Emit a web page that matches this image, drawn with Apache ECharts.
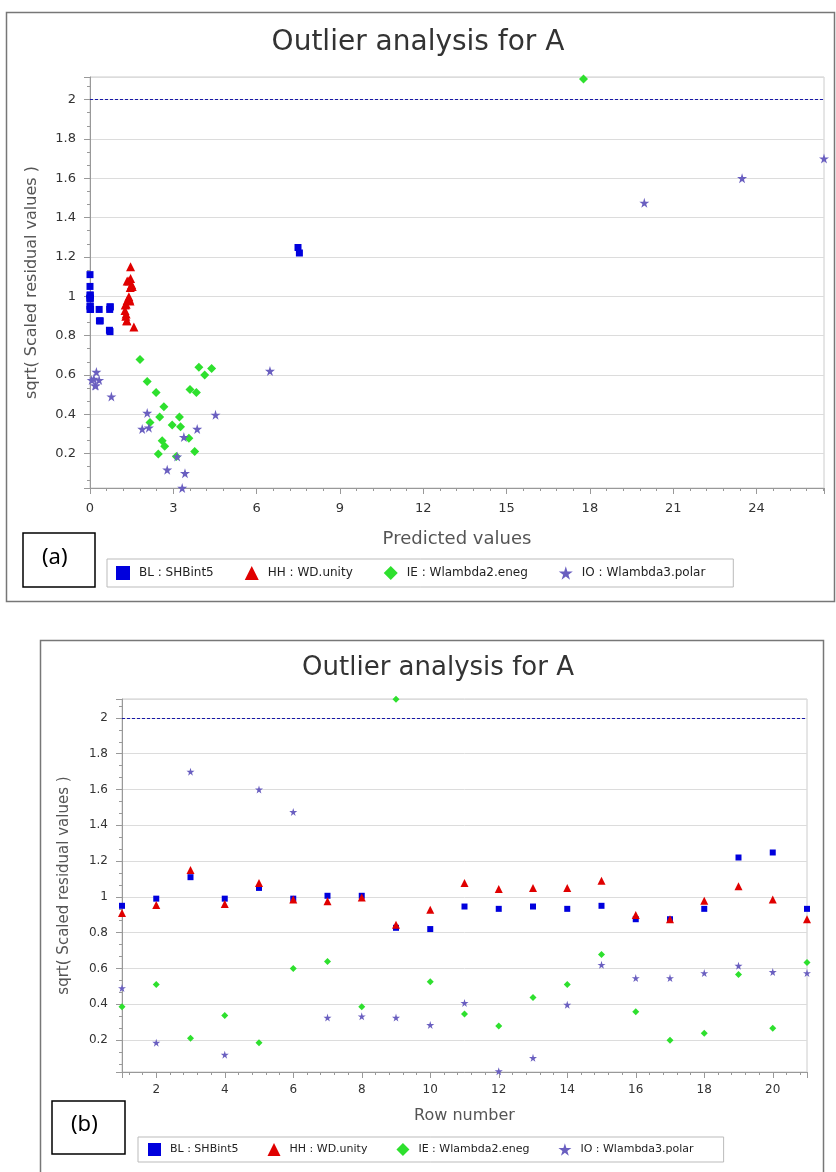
<!DOCTYPE html>
<html>
<head>
<meta charset="utf-8">
<title>Outlier analysis for A</title>
<script src="https://cdn.jsdelivr.net/npm/echarts@6/dist/echarts.min.js"></script>
<style>
html, body { margin: 0; padding: 0; background: #fff; }
#main { width: 836px; height: 1172px; }
</style>
</head>
<body>
<div id="main"></div>
<script>
// series names (legend)
var names = ['BL : SHBint5', 'HH : WD.unity', 'IE : Wlambda2.eneg', 'IO : Wlambda3.polar'];
var rows = [1, 2, 3, 4, 5, 6, 7, 8, 9, 10, 11, 12, 13, 14, 15, 16, 17, 18, 19, 20, 21];

// sqrt(scaled residual) per row
var blRes = [0.95, 0.99, 1.11, 0.99, 1.05, 0.99, 1.006, 1.006, 0.827, 0.82, 0.946, 0.933, 0.946, 0.933, 0.95, 0.875, 0.875, 0.933, 1.22, 1.248, 0.933];
var hhRes = [0.91, 0.955, 1.15, 0.96, 1.077, 0.985, 0.976, 0.997, 0.844, 0.928, 1.077, 1.044, 1.05, 1.05, 1.09, 0.898, 0.875, 0.978, 1.06, 0.985, 0.875];
var ieRes = [0.386, 0.51, 0.21, 0.337, 0.185, 0.60, 0.639, 0.386, 2.105, 0.526, 0.345, 0.278, 0.438, 0.51, 0.678, 0.358, 0.198, 0.237, 0.566, 0.265, 0.633];
var ioRes = [0.49, 0.185, 1.70, 0.118, 1.60, 1.475, 0.325, 0.332, 0.325, 0.284, 0.407, 0.025, 0.1, 0.397, 0.62, 0.546, 0.546, 0.574, 0.615, 0.58, 0.574];

// predicted values per row
var blPred = [0.01, 0.0, 0.0, 0.01, 0.0, 0.0, 0.0, 0.01, 0.70, 0.72, 0.72, 0.33, 0.73, 0.71, 0.0, 0.34, 0.37, 0.02, 7.54, 7.49, 0.0];
var hhPred = [1.30, 1.27, 1.46, 1.30, 1.40, 1.42, 1.44, 1.40, 1.58, 1.26, 1.34, 1.45, 1.52, 1.48, 1.46, 1.29, 1.32, 1.34, 1.50, 1.38, 1.33];
var iePred = [2.51, 2.38, 3.77, 3.26, 3.11, 4.13, 3.92, 3.22, 17.77, 3.60, 2.96, 3.56, 2.66, 3.83, 1.80, 2.16, 2.46, 2.69, 2.06, 2.60, 4.38];
var ioPred = [0.77, 3.14, 26.43, 2.78, 23.48, 19.96, 1.88, 2.12, 3.86, 3.38, 2.06, 3.32, 3.42, 4.52, 6.48, 0.21, 0.18, 0.33, 0.23, 0.14, 0.06];

var limit = 2;

var starPath = 'path://M50,0 L61,35 L98,35 L68,57 L79,91 L50,70 L21,91 L32,57 L2,35 L39,35 Z';
var colors = ['#0000dd', '#e00000', '#2ee02e', '#6a5fc0'];
var symbols = ['rect', 'triangle', 'diamond', starPath];
var sizesA = [7, 9, 9, 10];
var sizesB = [6, 8, 7, 8];

function zip(xs, ys) {
    var out = [];
    for (var i = 0; i < xs.length; i++) out.push([xs[i], ys[i]]);
    return out;
}

function scatter(i, gi, data, sizes) {
    var s = {
        name: names[i],
        type: 'scatter',
        xAxisIndex: gi,
        yAxisIndex: gi,
        symbol: symbols[i],
        symbolSize: sizes[i],
        itemStyle: { color: colors[i], opacity: 1 },
        data: data
    };
    if (i === 0) {
        // 阈值线 y = 2
        s.markLine = {
            silent: true,
            symbol: ['none', 'none'],
            label: { show: false },
            lineStyle: { type: [3, 2], color: '#1818a8', width: 1.2 },
            data: [{ yAxis: limit }]
        };
    }
    return s;
}

function yAx(gi, min, max, fs, gap, nameFs) {
    return {
        type: 'value', gridIndex: gi, min: min, max: max, splitNumber: 10,
        name: 'sqrt( Scaled residual values )', nameLocation: 'middle', nameGap: gap,
        nameTextStyle: { fontFamily: 'DejaVu Sans', fontSize: nameFs, color: '#555' },
        axisLine: { show: true, lineStyle: { color: '#999' } },
        axisTick: { show: true, length: 6, lineStyle: { color: '#999' } },
        minorTick: { show: true, splitNumber: 3, length: 3, lineStyle: { color: '#999' } },
        axisLabel: { fontFamily: 'DejaVu Sans', fontSize: fs, color: '#333', margin: 14,
            showMinLabel: false, showMaxLabel: false },
        splitLine: { show: true, lineStyle: { color: '#dcdcdc' } }
    };
}

function legendBox(left, top, pad, gap, icon, fs) {
    return {
        data: names, left: left, top: top, padding: pad, itemGap: gap,
        itemWidth: icon, itemHeight: icon, borderColor: '#bbb', borderWidth: 1,
        formatter: function (n) { return '{t|' + n + '}'; },
        textStyle: {
            rich: { t: { fontFamily: 'DejaVu Sans', fontSize: fs, color: '#222', padding: [0, 0, 0, 4] } }
        }
    };
}

var chart = echarts.init(document.getElementById('main'));

chart.setOption({
    backgroundColor: '#fff',
    animation: false,
    title: [{
        text: 'Outlier analysis for A', left: 'center', top: 24,
        textStyle: { fontFamily: 'DejaVu Sans', fontSize: 28, fontWeight: 'normal', color: '#333' }
    }, {
        text: 'Outlier analysis for A', left: 433, textAlign: 'center', top: 650,
        textStyle: { fontFamily: 'DejaVu Sans', fontSize: 26, fontWeight: 'normal', color: '#333' }
    }],
    legend: [
        legendBox(107, 559, [7, 28, 7, 9], 31, 14, 12),
        legendBox(138, 1137, [6, 30, 6, 10], 29, 13, 11)
    ],
    grid: [
        { left: 90, top: 77, width: 734, height: 411, show: true, borderColor: '#ccc', outerBoundsMode: 'none', containLabel: false },
        { left: 122, top: 699, width: 685, height: 373, show: true, borderColor: '#ccc', outerBoundsMode: 'none', containLabel: false }
    ],
    xAxis: [{
        type: 'value', gridIndex: 0, min: 0, max: 26.43, interval: 3,
        name: 'Predicted values', nameLocation: 'middle', nameGap: 42,
        nameTextStyle: { fontFamily: 'DejaVu Sans', fontSize: 18, color: '#555' },
        axisLine: { show: true, lineStyle: { color: '#999' } },
        axisTick: { show: true, length: 6, lineStyle: { color: '#999' } },
        minorTick: { show: true, splitNumber: 5, length: 3, lineStyle: { color: '#999' } },
        axisLabel: { fontFamily: 'DejaVu Sans', fontSize: 13, color: '#333', margin: 14, showMaxLabel: false },
        splitLine: { show: false }
    }, {
        type: 'value', gridIndex: 1, min: 1, max: 21, splitNumber: 10,
        name: 'Row number', nameLocation: 'middle', nameGap: 36,
        nameTextStyle: { fontFamily: 'DejaVu Sans', fontSize: 16, color: '#555' },
        axisLine: { show: true, lineStyle: { color: '#999' } },
        axisTick: { show: true, length: 6, lineStyle: { color: '#999' } },
        minorTick: { show: true, splitNumber: 5, length: 3, lineStyle: { color: '#999' } },
        axisLabel: { fontFamily: 'DejaVu Sans', fontSize: 12, color: '#333', margin: 12,
            showMinLabel: false, showMaxLabel: false },
        splitLine: { show: false }
    }],
    yAxis: [
        yAx(0, 0.025, 2.115, 13, 50, 16),
        yAx(1, 0.021, 2.106, 12, 50, 15)
    ],
    graphic: [
        { type: 'rect', shape: { x: 6.5, y: 12.5, width: 828, height: 589 }, style: { fill: 'none', stroke: '#777', lineWidth: 1.5 }, z: -1 },
        { type: 'rect', shape: { x: 40.5, y: 640.5, width: 783, height: 560 }, style: { fill: 'none', stroke: '#777', lineWidth: 1.5 }, z: -1 },
        { type: 'rect', shape: { x: 23, y: 533, width: 72, height: 54 }, style: { fill: '#fff', stroke: '#000', lineWidth: 1.5 } },
        { type: 'text', left: 42, top: 547, style: { text: '(a)', font: '22px "Noto Sans"', fill: '#000' } },
        { type: 'rect', shape: { x: 52, y: 1101, width: 73, height: 53 }, style: { fill: '#fff', stroke: '#000', lineWidth: 1.5 } },
        { type: 'text', left: 71, top: 1114, style: { text: '(b)', font: '22px "Noto Sans"', fill: '#000' } }
    ],
    series: [
        scatter(0, 0, zip(blPred, blRes), sizesA),
        scatter(1, 0, zip(hhPred, hhRes), sizesA),
        scatter(2, 0, zip(iePred, ieRes), sizesA),
        scatter(3, 0, zip(ioPred, ioRes), sizesA),
        scatter(0, 1, zip(rows, blRes), sizesB),
        scatter(1, 1, zip(rows, hhRes), sizesB),
        scatter(2, 1, zip(rows, ieRes), sizesB),
        scatter(3, 1, zip(rows, ioRes), sizesB)
    ]
});
</script>
</body>
</html>
